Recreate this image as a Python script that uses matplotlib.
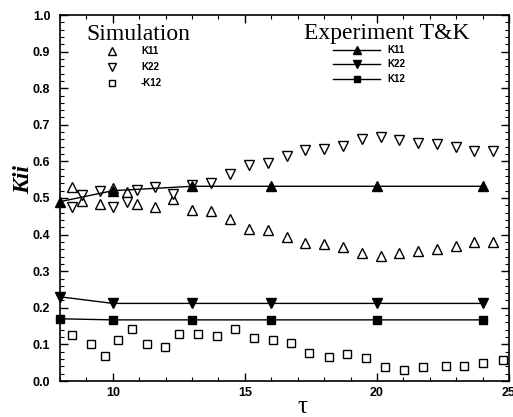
import matplotlib
matplotlib.use("Agg")
import matplotlib.pyplot as plt
from matplotlib.ticker import MultipleLocator

# Simulation data
tau_sim = [8.47, 8.82, 9.52, 10.02, 10.55, 10.9, 11.6, 12.29, 13.0, 13.72, 14.44, 15.17,
           15.89, 16.59, 17.29, 18.0, 18.71, 19.43, 20.15, 20.85, 21.57, 22.29, 23.0, 23.69, 24.41]
k11_sim = [0.529, 0.493, 0.484, 0.526, 0.516, 0.484, 0.476, 0.496, 0.467, 0.465, 0.443, 0.414,
           0.412, 0.394, 0.376, 0.374, 0.367, 0.349, 0.342, 0.349, 0.356, 0.360, 0.369, 0.381, 0.381]
k22_sim = [0.475, 0.508, 0.520, 0.475, 0.490, 0.522, 0.529, 0.511, 0.536, 0.542, 0.566, 0.591,
           0.596, 0.616, 0.631, 0.634, 0.641, 0.660, 0.666, 0.658, 0.649, 0.647, 0.638, 0.628, 0.628]
tau_sim12 = [8.44, 9.16, 9.7, 10.21, 10.74, 11.28, 11.98, 12.52, 13.22, 13.94, 14.63, 15.35,
             16.06, 16.75, 17.44, 18.19, 18.88, 19.59, 20.31, 21.04, 21.74, 22.62, 23.31, 24.03, 24.77]
mk12_sim = [0.126, 0.101, 0.069, 0.112, 0.141, 0.100, 0.092, 0.128, 0.128, 0.123, 0.141, 0.117,
            0.112, 0.105, 0.077, 0.066, 0.073, 0.062, 0.039, 0.030, 0.037, 0.041, 0.041, 0.050, 0.057]

# Experiment T&K
tau_exp = [8, 10, 13, 16, 20, 24]
k11_exp = [0.490, 0.520, 0.532, 0.532, 0.532, 0.532]
k22_exp = [0.230, 0.212, 0.212, 0.212, 0.212, 0.212]
k12_exp = [0.170, 0.167, 0.167, 0.167, 0.167, 0.167]

sim_labels = ["K11", "K22", "-K12"]
exp_labels = ["K11", "K22", "K12"]
xtick_vals = [10, 15, 20, 25]
ytick_vals = [i / 10 for i in range(11)]

fig = plt.figure(figsize=(5.13, 4.17), dpi=100)
ax = fig.add_axes([60/513, 36/417, 449/513, 366/417])

sans = ["Liberation Sans", "DejaVu Sans"]
serif = ["Liberation Serif", "DejaVu Serif"]

ms = 7
sim_style = dict(ls="none", ms=ms, mfc="white", mec="black", mew=1.0, clip_on=False)
ax.plot(tau_sim, k11_sim, marker="^", **sim_style)
ax.plot(tau_sim, k22_sim, marker="v", **sim_style)
ax.plot(tau_sim12, mk12_sim, marker="s", **{**sim_style, "ms": 6})

exp_style = dict(color="black", lw=1.0, ms=ms, mfc="black", mec="black", clip_on=False)
ax.plot(tau_exp, k11_exp, marker="^", **exp_style)
ax.plot(tau_exp, k22_exp, marker="v", **exp_style)
ax.plot(tau_exp, k12_exp, marker="s", **{**exp_style, "ms": 6})

ax.set_xlim(8, 25)
ax.set_ylim(0, 1.0)
ax.xaxis.set_minor_locator(MultipleLocator(1))
ax.yaxis.set_minor_locator(MultipleLocator(0.02))
ax.set_yticks(ytick_vals)
ax.set_yticklabels([f"{v:.1f}" for v in ytick_vals], fontfamily=sans, fontweight="bold", fontsize=9)
ax.set_xticks(xtick_vals)
ax.set_xticklabels([str(v) for v in xtick_vals], fontfamily=sans, fontweight="bold", fontsize=9)
ax.tick_params(which="both", direction="in", top=True, right=True)
ax.tick_params(which="major", length=6, width=1.0)
ax.tick_params(axis="y", which="major", pad=7)
ax.tick_params(axis="x", which="major", pad=4)
ax.tick_params(which="minor", length=3, width=0.8)
for s in ax.spines.values():
    s.set_linewidth(1.2)

ax.set_xlabel("τ", fontfamily=serif, fontsize=18)
ax.xaxis.set_label_coords((302 - 60) / 449, (381 - 396) / 366)
ax.set_ylabel("Kii", fontfamily=serif, fontstyle="italic", fontweight="bold", fontsize=17)
ax.yaxis.set_label_coords((34 - 60) / 449, (381 - 180) / 366)

T = ax.transAxes
def fx(px):
    return (px - 60) / 449
def fy(py):
    return (381 - py) / 366

# Simulation legend (manual)
ax.text(fx(138), fy(40), "Simulation", transform=T, fontfamily=serif, fontsize=17,
        ha="center", va="baseline")
for mk, lab, py, msz in zip(["^", "v", "s"], sim_labels, [51, 67, 83], [5.5, 5.5, 4.5]):
    ax.plot([fx(112)], [fy(py)], transform=T, marker=mk, ls="none", ms=msz,
            mfc="white", mec="black", mew=1.0, clip_on=False)
    ax.text(fx(141), fy(py), lab, transform=T, fontfamily=sans, fontweight="bold",
            fontsize=7, ha="left", va="center")

# Experiment legend (manual)
ax.text(fx(387), fy(39), "Experiment T&K", transform=T, fontfamily=serif, fontsize=17,
        ha="center", va="baseline")
for mk, lab, py, msz in zip(["^", "v", "s"], exp_labels, [50, 64, 79], [5.5, 5.5, 4.5]):
    ax.plot([fx(333), fx(380)], [fy(py), fy(py)], transform=T, color="black", lw=1.0, clip_on=False)
    ax.plot([fx(357)], [fy(py)], transform=T, marker=mk, ls="none", ms=msz,
            mfc="black", mec="black", clip_on=False)
    ax.text(fx(387), fy(py), lab, transform=T, fontfamily=sans, fontweight="bold",
            fontsize=7, ha="left", va="center")

fig.savefig("out.png", dpi=100)
